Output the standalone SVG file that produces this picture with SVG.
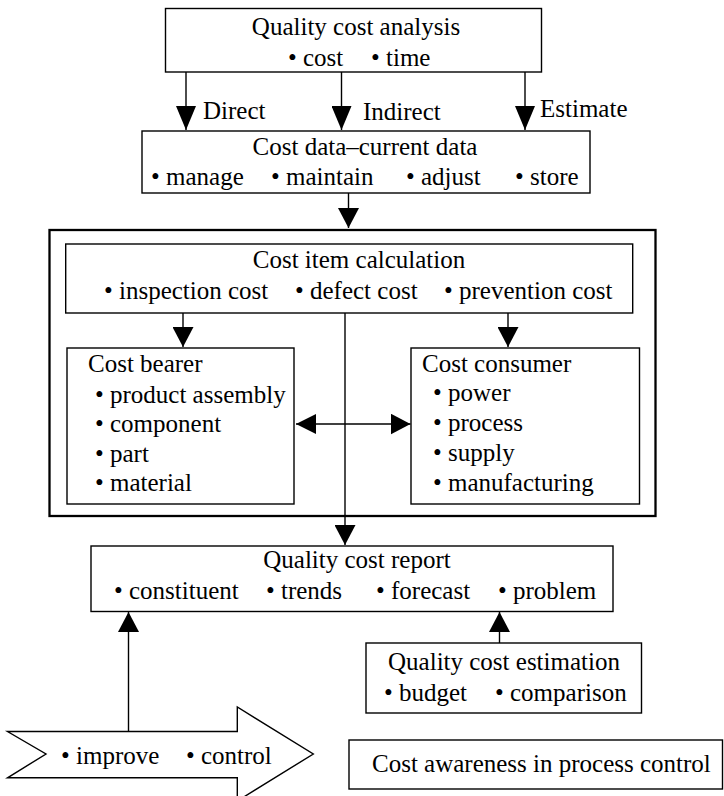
<svg xmlns="http://www.w3.org/2000/svg" width="724" height="796" viewBox="0 0 724 796">
  <style>
    text { font-family: "Liberation Serif", "Times New Roman", serif; font-size: 25px; fill: #000; }
    .mid { text-anchor: middle; }
    .box { fill: #fff; stroke: #000; stroke-width: 1.4; }
    .frame { fill: none; stroke: #000; stroke-width: 2.3; }
    .wire { fill: none; stroke: #000; stroke-width: 1.4; }
  </style>
  <defs>
    <marker id="headLong" viewBox="0 0 24 20" refX="24" refY="10" markerWidth="24" markerHeight="20" markerUnits="userSpaceOnUse" orient="auto">
      <path d="M0,0 L24,10 L0,20 Z" fill="#000"/>
    </marker>
    <marker id="head" viewBox="0 0 20 21" refX="20" refY="10.5" markerWidth="20" markerHeight="21" markerUnits="userSpaceOnUse" orient="auto">
      <path d="M0,0 L20,10.5 L0,21 Z" fill="#000"/>
    </marker>
    <marker id="headStart" viewBox="0 0 20 20" refX="0" refY="10" markerWidth="20" markerHeight="20" markerUnits="userSpaceOnUse" orient="auto">
      <path d="M20,0 L0,10 L20,20 Z" fill="#000"/>
    </marker>
  </defs>

  <!-- connectors -->
  <g id="connectors">
    <line class="wire" x1="186" y1="72" x2="186" y2="130" marker-end="url(#headLong)"/>
    <line class="wire" x1="341.5" y1="72" x2="341.5" y2="130" marker-end="url(#headLong)"/>
    <line class="wire" x1="525" y1="72" x2="525" y2="130" marker-end="url(#headLong)"/>
    <line class="wire" x1="348.5" y1="193" x2="348.5" y2="228" marker-end="url(#head)"/>
    <line class="wire" x1="183" y1="313" x2="183" y2="347" marker-end="url(#head)"/>
    <line class="wire" x1="508" y1="313" x2="508" y2="347" marker-end="url(#head)"/>
    <line class="wire" x1="345" y1="313" x2="345" y2="545" marker-end="url(#head)"/>
    <line class="wire" x1="296" y1="424" x2="410.5" y2="424" marker-start="url(#headStart)" marker-end="url(#head)"/>
    <line class="wire" x1="128.5" y1="731.5" x2="128.5" y2="612" marker-end="url(#head)"/>
    <line class="wire" x1="499.5" y1="643" x2="499.5" y2="612" marker-end="url(#head)"/>
  </g>

  <!-- edge labels -->
  <g id="labels">
    <text x="203" y="119">Direct</text>
    <text x="363" y="120">Indirect</text>
    <text x="540" y="117">Estimate</text>
  </g>

  <g id="analysis">
    <rect class="box" x="165.5" y="8.5" width="376" height="63.5"/>
    <text class="mid" x="356" y="35">Quality cost analysis</text>
    <text x="288" y="66">• cost</text>
    <text x="371" y="66">• time</text>
  </g>

  <g id="cost-data">
    <rect class="box" x="142" y="131" width="448" height="62"/>
    <text class="mid" x="365" y="155">Cost data–current data</text>
    <text x="151" y="185">• manage</text>
    <text x="271" y="185">• maintain</text>
    <text x="406" y="185">• adjust</text>
    <text x="515" y="185">• store</text>
  </g>

  <g id="calculation-frame">
    <rect class="frame" x="49.5" y="230" width="606" height="286"/>
  </g>

  <g id="cost-item">
    <rect class="box" x="65.7" y="244" width="567" height="69" style="fill:none"/>
    <text class="mid" x="359" y="268">Cost item calculation</text>
    <text x="104" y="299">• inspection cost</text>
    <text x="295" y="299">• defect cost</text>
    <text x="444" y="299">• prevention cost</text>
  </g>

  <g id="cost-bearer">
    <rect class="box" x="67" y="348" width="227" height="156"/>
    <text x="88" y="372">Cost bearer</text>
    <text x="95" y="402.5">• product assembly</text>
    <text x="95" y="432">• component</text>
    <text x="95" y="461.5">• part</text>
    <text x="95" y="491">• material</text>
  </g>

  <g id="cost-consumer">
    <rect class="box" x="411" y="348" width="228.5" height="156"/>
    <text x="422" y="372">Cost consumer</text>
    <text x="433" y="401">• power</text>
    <text x="433" y="431">• process</text>
    <text x="433" y="461">• supply</text>
    <text x="433" y="491">• manufacturing</text>
  </g>

  <g id="report">
    <rect class="box" x="91" y="546" width="522" height="65.5"/>
    <text class="mid" x="357" y="568">Quality cost report</text>
    <text x="114" y="599">• constituent</text>
    <text x="266" y="599">• trends</text>
    <text x="376" y="599">• forecast</text>
    <text x="498" y="599">• problem</text>
  </g>

  <g id="estimation">
    <rect class="box" x="366" y="643" width="275.5" height="70"/>
    <text class="mid" x="504" y="670">Quality cost estimation</text>
    <text x="384" y="701">• budget</text>
    <text x="495" y="701">• comparison</text>
  </g>

  <g id="improve-control">
    <polygon class="box" points="7.5,731.5 237.3,731.5 237.3,707 313.3,754 237.3,801 237.3,777.8 7.5,777.8 46,754"/>
    <text x="61" y="764">• improve</text>
    <text x="186" y="764">• control</text>
  </g>

  <g id="awareness">
    <rect class="box" x="349" y="740" width="373.5" height="49"/>
    <text x="372" y="772">Cost awareness in process control</text>
  </g>
</svg>
